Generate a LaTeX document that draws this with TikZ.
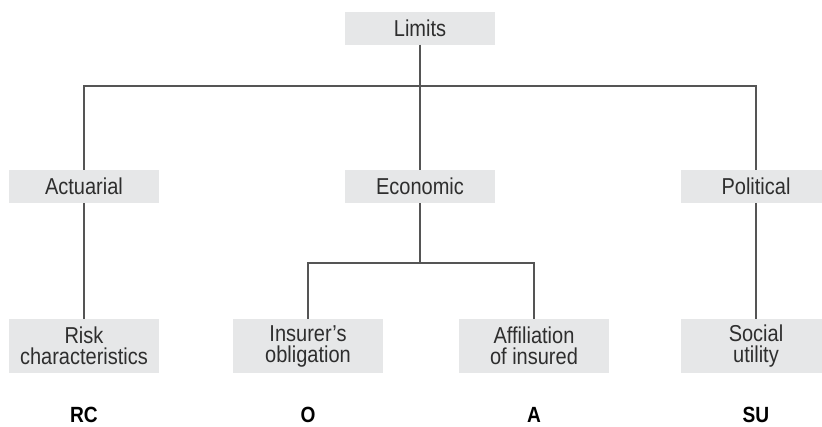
\documentclass[tikz,border=0pt]{standalone}
\usepackage{fontspec}
\setmainfont{Liberation Sans}[FakeStretch=0.87]
\definecolor{boxfill}{HTML}{E6E7E8}
\definecolor{linegray}{HTML}{555555}
\definecolor{txtgray}{HTML}{2E2E2E}
\begin{document}
\begin{tikzpicture}[x=1pt,y=-1pt,
  box/.style={fill=boxfill,draw=none,minimum width=150pt,inner sep=0pt,align=center,
    font=\fontsize{23}{21}\selectfont,text=txtgray},
  onebox/.style={box,minimum height=33pt},
  twobox/.style={box,minimum height=54pt},
  code/.style={font=\fontsize{22}{21}\selectfont\bfseries,text=black},
  conn/.style={draw=linegray,line width=1.4pt}]
\useasboundingbox (0,0) rectangle (822,426);
\node[onebox] (lim) at (420,28) {Limits};
\node[onebox] (act) at (84,186.5) {Actuarial};
\node[onebox] (eco) at (420,186.5) {Economic};
\node[onebox] (pol) at (756,186.5) {Political};
\node[twobox] (risk) at (84,346) {Risk\\characteristics};
\node[twobox] (ins) at (308,346) {Insurer’s\\obligation};
\node[twobox] (aff) at (534,346) {Affiliation\\of insured};
\node[twobox] (soc) at (756,346) {Social\\utility};
\node[code] (rc) at (84,415) {RC};
\node[code] (o) at (308,415) {O};
\node[code] (a) at (534,415) {A};
\node[code] (su) at (756,415) {SU};
\coordinate (j1) at (420,86);
\coordinate (j2) at (420,263);
\draw[conn] (lim.south) -- (eco.north);
\draw[conn] (act.north) |- (j1) -| (pol.north);
\draw[conn] (act.south) -- (risk.north);
\draw[conn] (pol.south) -- (soc.north);
\draw[conn] (eco.south) -- (j2);
\draw[conn] (ins.north) |- (j2) -| (aff.north);
\end{tikzpicture}
\end{document}
